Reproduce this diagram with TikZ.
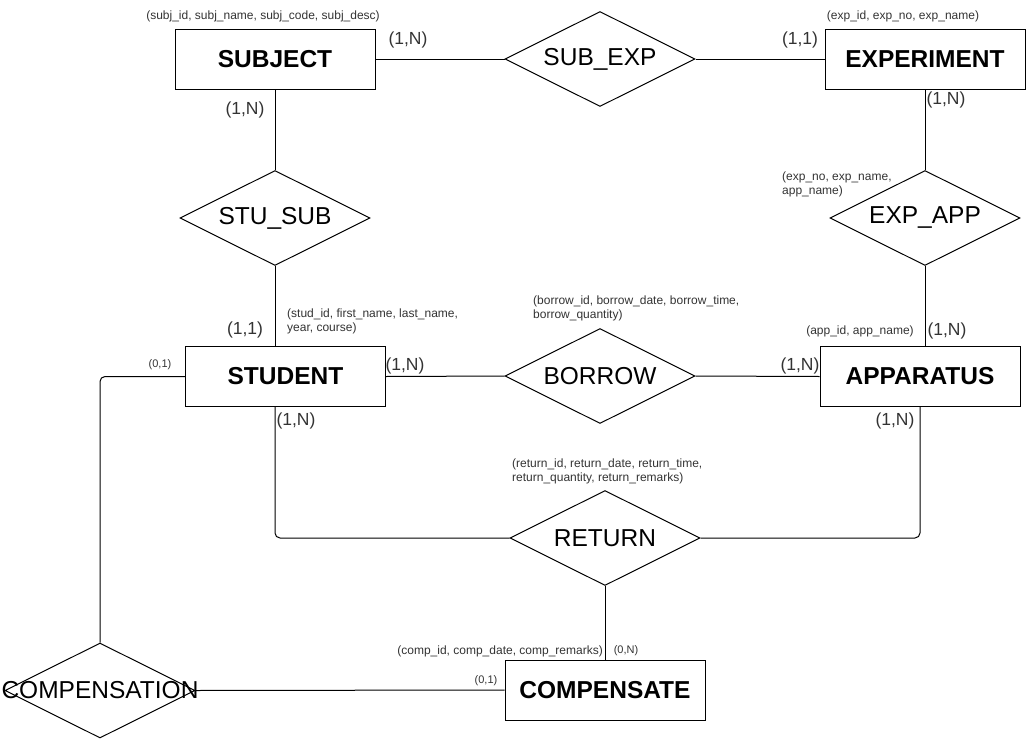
\documentclass[tikz,border=0pt]{standalone}
\usepackage{fontspec}
\setmainfont{Liberation Sans}
\usetikzlibrary{shapes.geometric}
\begin{document}
\begin{tikzpicture}[x=1pt,y=-1pt,
  ent/.style={draw, line width=1pt, minimum width=200pt, minimum height=60pt, inner sep=0pt,
    font=\fontsize{24.5}{28}\selectfont\bfseries},
  rel/.style={draw, diamond, aspect=2, line width=1pt, minimum width=190pt, minimum height=95pt, inner sep=0pt,
    font=\fontsize{24.5}{28}\selectfont},
  reltext/.style={inner sep=0pt, font=\fontsize{24.5}{28}\selectfont},
  card/.style={inner sep=0pt, text=black!80, font=\fontsize{17.5}{20}\selectfont},
  small/.style={inner sep=0pt, text=black!80, font=\fontsize{11}{13}\selectfont},
  attr/.style={inner sep=0pt, text=black!80, font=\fontsize{12}{14}\selectfont},
  attrl/.style={inner sep=0pt, text=black!80, align=left, anchor=west, font=\fontsize{12}{14}\selectfont},
  conn/.style={line width=1pt}]
\useasboundingbox (0,0) rectangle (1026,739);

% entities
\node[ent] (subject) at (275,59) {SUBJECT};
\node[ent] (experiment) at (925,59) {EXPERIMENT};
\node[ent] (student) at (285.5,376.5) {STUDENT};
\node[ent] (apparatus) at (920,376.5) {APPARATUS};
\node[ent] (compensate) at (605,690) {COMPENSATE};

% relationships
\node[rel] (subexp) at (600,59) {SUB\_EXP};
\node[rel] (stusub) at (275,218) {STU\_SUB};
\node[rel] (expapp) at (925,218) {EXP\_APP};
\node[rel] (borrow) at (600,376) {BORROW};
\node[rel] (return) at (605,538) {RETURN};
\node[rel] (compensation) at (100,690.5) {};
\node[reltext] (compensationtext) at (compensation) {COMPENSATION};

% connectors
\draw[conn] (subject.east) -- (subexp.west);
\draw[conn] (subexp.east) -- (experiment.west);
\draw[conn] (subject.south) -- (stusub.north);
\draw[conn] (stusub.south) -- (stusub.south |- student.north);
\draw[conn] (experiment.south) -- (expapp.north);
\draw[conn] (expapp.south) -- (expapp.south |- apparatus.north);
\draw[conn] (student.east) -- (borrow.west);
\draw[conn] (borrow.east) -- (apparatus.west);
\draw[conn, rounded corners=5pt] (stusub.south |- student.south) |- (return.west);
\draw[conn, rounded corners=5pt] (apparatus.south) |- (return.east);
\draw[conn] (return.south) -- (compensate.north);
\draw[conn, rounded corners=5pt] (student.west) -| (compensation.north);
\draw[conn] (compensation.east) -- (compensate.west);

% attribute texts
\node[attr] (subjattr) at (263,16) {(subj\_id, subj\_name, subj\_code, subj\_desc)};
\node[attr] (expattr) at (903,16) {(exp\_id, exp\_no, exp\_name)};
\node[attrl] (expappattr) at (782,184) {(exp\_no, exp\_name,\\app\_name)};
\node[attr] (appattr) at (860,331) {(app\_id, app\_name)};
\node[attrl] (studattr) at (287,321) {(stud\_id, first\_name, last\_name,\\year, course)};
\node[attrl] (borrowattr) at (533,308) {(borrow\_id, borrow\_date, borrow\_time,\\borrow\_quantity)};
\node[attrl] (returnattr) at (512,471) {(return\_id, return\_date, return\_time,\\return\_quantity, return\_remarks)};
\node[attr, anchor=east] (compattr) at (603,651) {(comp\_id, comp\_date, comp\_remarks)};

% cardinalities
\node[card] (c1) at (408,40) {(1,N)};
\node[card] (c2) at (800,40) {(1,1)};
\node[card] (c3) at (245,110) {(1,N)};
\node[card] (c4) at (946,100) {(1,N)};
\node[card] (c5) at (245,330) {(1,1)};
\node[card] (c6) at (947,331) {(1,N)};
\node[card] (c7) at (405,366) {(1,N)};
\node[card] (c8) at (800,366) {(1,N)};
\node[card] (c9) at (296,421) {(1,N)};
\node[card] (c10) at (895,421) {(1,N)};
\node[small] (c11) at (160,365) {(0,1)};
\node[small] (c12) at (626,651) {(0,N)};
\node[small] (c13) at (486,681) {(0,1)};
\end{tikzpicture}
\end{document}
